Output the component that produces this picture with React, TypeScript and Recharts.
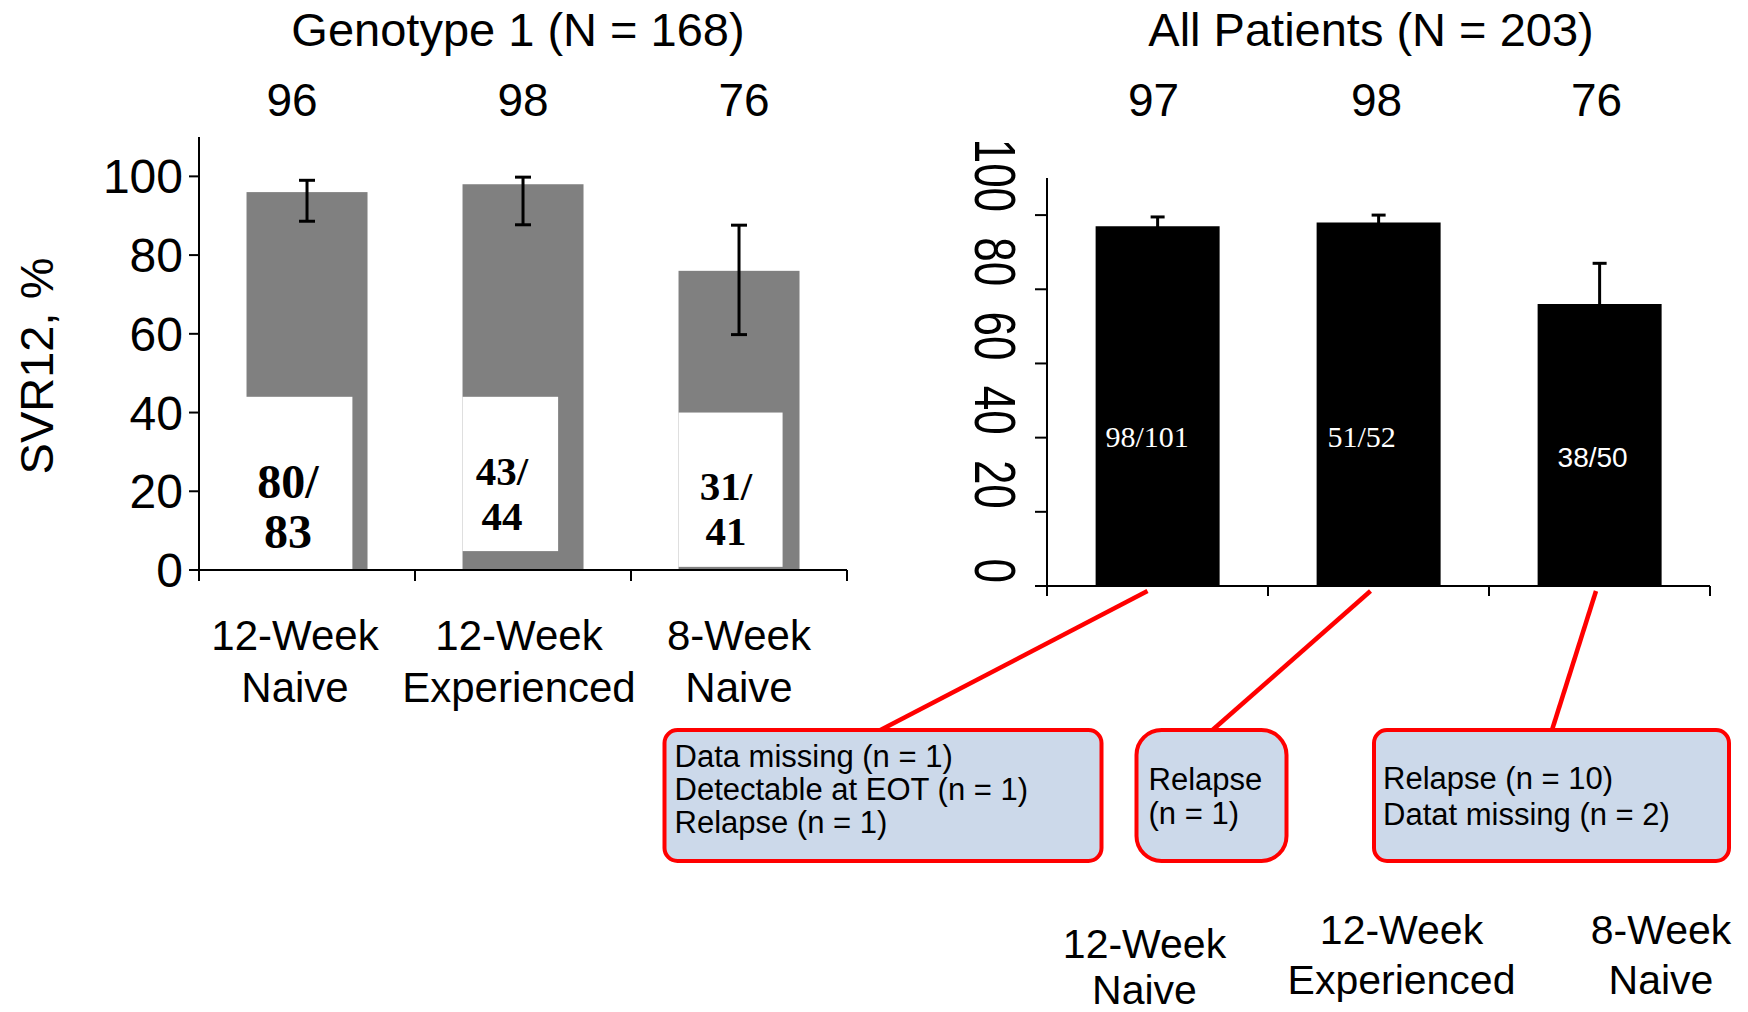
import React from "react";
import { BarChart, Bar, XAxis, YAxis, ErrorBar, LabelList } from "recharts";

const SANS = '"Liberation Sans", Arial, Helvetica, sans-serif';
const SERIF = '"Liberation Serif", "Times New Roman", serif';

// shared categories (two-line tick labels)
const groups = ["12-Week\nNaive", "12-Week\nExperienced", "8-Week\nNaive"];
const yTicks = [0, 20, 40, 60, 80, 100];

// Genotype 1 (N = 168)
const g1Svr = [96, 98, 76];
const g1CiLow = [88.6, 87.7, 59.8];
const g1CiHigh = [99.0, 99.8, 87.6];
const g1Cured = [80, 43, 31];
const g1Total = [83, 44, 41];

// All patients (N = 203)
const allSvr = [97, 98, 76];
const allCiHigh = [99.5, 100, 87];
const allCured = [98, 51, 38];
const allTotal = [101, 52, 50];
const allNotes = [
  ["Data missing (n = 1)", "Detectable at EOT (n = 1)", "Relapse (n = 1)"],
  ["Relapse", "(n = 1)"],
  ["Relapse (n = 10)", "Datat missing (n = 2)"],
];

const g1Rows = groups.map((cat, i) => ({
  cat,
  svr: g1Svr[i],
  err: [g1Svr[i] - g1CiLow[i], g1CiHigh[i] - g1Svr[i]],
  cured: g1Cured[i],
  total: g1Total[i],
}));

// only the upper whisker shows above the black bars; the lower half sits inside them
const allRows = groups.map((cat, i) => ({
  cat,
  svr: allSvr[i],
  err: allCiHigh[i] - allSvr[i],
  frac: `${allCured[i]}/${allTotal[i]}`,
}));

// layout of the two panels
const LEFT = { w: 880, h: 720, yAxisW: 100, xAxisH: 30, margin: { top: 137, right: 33, bottom: 120, left: 99 } };
const RIGHT = { left: 600, w: 1148, h: 1012, yAxisW: 100, xAxisH: 30, margin: { top: 178, right: 38, bottom: 396, left: 347 } };

const halfBand = (c: typeof LEFT) => (c.w - c.margin.left - c.margin.right - c.yAxisW) / groups.length / 2;

// white text boxes pasted over the lower part of the grey bars
const g1Patch = [
  { from: -0.2, to: 0.875, top: 44, bottom: -0.4, dx: -19, size: 48, lines: [72, 22] },
  { from: 0, to: 0.79, top: 44, bottom: 4.8, dx: -21, size: 41, lines: [85, 40] },
  { from: 0, to: 0.86, top: 40, bottom: 0.8, dx: -13, size: 41, lines: [70, 25] },
];

function G1BarShape(props: any) {
  const { x, y, width, height, payload } = props;
  const i = props.index ?? groups.indexOf(payload.cat);
  const p = g1Patch[i];
  const perUnit = height / payload.svr;
  const base = y + height;
  const left = x + p.from * width;
  const right = x + p.to * width;
  const top = base - p.top * perUnit;
  const bottom = base - p.bottom * perUnit;
  const cx = x + width / 2 + p.dx;
  return (
    <g>
      <rect x={x} y={y} width={width} height={height} fill="#808080" />
      <rect x={left} y={top} width={right - left} height={bottom - top} fill="#ffffff" />
      <text x={cx} y={base - p.lines[0]} textAnchor="middle" fontFamily={SERIF} fontWeight="bold" fontSize={p.size} fill="#000">
        {payload.cured}/
      </text>
      <text x={cx} y={base - p.lines[1]} textAnchor="middle" fontFamily={SERIF} fontWeight="bold" fontSize={p.size} fill="#000">
        {payload.total}
      </text>
    </g>
  );
}

const TOP_ROW_Y = 116;
const g1TopDx = [-15, 0, 5];
const allTopDx = [-4, -2, -3];

const topValue = (dxs: number[]) => (props: any) => {
  const { x, width, value, index } = props;
  return (
    <text x={x + width / 2 + dxs[index]} y={TOP_ROW_Y} textAnchor="middle" fontFamily={SANS} fontSize={46} fill="#000">
      {value}
    </text>
  );
};

// bottom axis of the left panel: tick marks on band edges, two-line labels
const g1LabelDx = [-12, -4, 0];

function G1Tick(props: any) {
  const { x, y, payload } = props;
  const i = payload.index ?? props.index;
  const half = payload.offset || halfBand(LEFT);
  const [l1, l2] = String(payload.value).split("\n");
  return (
    <g>
      <line x1={x - half} x2={x - half} y1={y} y2={y + 11} stroke="#000" strokeWidth={2} />
      {i === groups.length - 1 && <line x1={x + half} x2={x + half} y1={y} y2={y + 11} stroke="#000" strokeWidth={2} />}
      <text x={x + g1LabelDx[i]} y={y + 80} textAnchor="middle" fontFamily={SANS} fontSize={42} fill="#000">{l1}</text>
      <text x={x + g1LabelDx[i]} y={y + 132} textAnchor="middle" fontFamily={SANS} fontSize={42} fill="#000">{l2}</text>
    </g>
  );
}

// right panel: rotated y tick labels
function AllYTick(props: any) {
  const { x, y, payload } = props;
  return (
    <text
      transform={`translate(${x},${y - 3}) rotate(90) scale(1,1.3)`}
      textAnchor="end"
      fontFamily={SANS}
      fontSize={44}
      fill="#000"
    >
      {payload.value}
    </text>
  );
}

// callouts hanging below each bar of the right panel
const callout = [
  { start: -10, end: -277, x0: -493, x1: -56, r: 13, textX: -483, lines: [181, 214, 247], labelDx: -13, labelY: [372, 418] },
  { start: -8, end: -166, x0: -242, x1: -92, r: 25, textX: -230, lines: [204, 238], labelDx: 23, labelY: [358, 408] },
  { start: -3.5, end: -47.5, x0: -225.5, x1: 129.5, r: 13, textX: -216.5, lines: [203, 239], labelDx: 61.5, labelY: [358, 408] },
];
const BOX_TOP = 144;
const BOX_BOTTOM = 275;

function AllXTick(props: any) {
  const { x, y, payload } = props;
  const i = payload.index ?? props.index;
  const half = payload.offset || halfBand(RIGHT as any);
  const c = callout[i];
  const [l1, l2] = String(payload.value).split("\n");
  return (
    <g>
      <line x1={x - half} x2={x - half} y1={y} y2={y + 10} stroke="#000" strokeWidth={2} />
      {i === groups.length - 1 && <line x1={x + half} x2={x + half} y1={y} y2={y + 10} stroke="#000" strokeWidth={2} />}
      <line x1={x + c.start} y1={y + 5} x2={x + c.end} y2={y + BOX_TOP} stroke="#ff0000" strokeWidth={4.5} />
      <rect
        x={x + c.x0}
        y={y + BOX_TOP}
        width={c.x1 - c.x0}
        height={BOX_BOTTOM - BOX_TOP}
        rx={c.r}
        ry={c.r}
        fill="#ccd9ea"
        stroke="#ff0000"
        strokeWidth={4}
      />
      {allNotes[i].map((t, k) => (
        <text key={k} x={x + c.textX} y={y + c.lines[k]} fontFamily={SANS} fontSize={31} fill="#000">
          {t}
        </text>
      ))}
      <text x={x + c.labelDx} y={y + c.labelY[0]} textAnchor="middle" fontFamily={SANS} fontSize={41} fill="#000">{l1}</text>
      <text x={x + c.labelDx} y={y + c.labelY[1]} textAnchor="middle" fontFamily={SANS} fontSize={41} fill="#000">{l2}</text>
    </g>
  );
}

// white n/N labels inside the black bars
const allFracStyle = [
  { dx: -10.5, rise: 139, font: SERIF, size: 30 },
  { dx: -17, rise: 139, font: SERIF, size: 30 },
  { dx: -7, rise: 119, font: SANS, size: 28 },
];

function AllFrac(props: any) {
  const { x, y, width, height, value, index } = props;
  const s = allFracStyle[index];
  return (
    <text x={x + width / 2 + s.dx} y={y + height - s.rise} textAnchor="middle" fontFamily={s.font} fontSize={s.size} fill="#fff">
      {value}
    </text>
  );
}

const axisStroke = { stroke: "#000", strokeWidth: 2 };

export default function App() {
  return (
    <div style={{ position: "absolute", left: 0, top: 0, width: 1748, height: 1012, background: "#fff", overflow: "hidden" }}>
      <svg width={1748} height={1012} style={{ position: "absolute", left: 0, top: 0 }}>
        <text x={518} y={46} textAnchor="middle" fontFamily={SANS} fontSize={47} fill="#000">
          Genotype 1 (N = 168)
        </text>
        <text x={1371} y={46} textAnchor="middle" fontFamily={SANS} fontSize={47} fill="#000">
          All Patients (N = 203)
        </text>
        <text transform="translate(53,366) rotate(-90)" textAnchor="middle" fontFamily={SANS} fontSize={47} fill="#000">
          SVR12, %
        </text>
      </svg>

      <div style={{ position: "absolute", left: 0, top: 0 }}>
        <BarChart width={LEFT.w} height={LEFT.h} data={g1Rows} margin={LEFT.margin} barCategoryGap="22%">
          <XAxis
            dataKey="cat"
            height={LEFT.xAxisH}
            axisLine={axisStroke}
            tickLine={false}
            tickSize={0}
            tickMargin={0}
            interval={0}
            tick={<G1Tick />}
          />
          <YAxis
            width={LEFT.yAxisW}
            domain={[0, 110]}
            ticks={yTicks}
            axisLine={axisStroke}
            tickLine={axisStroke}
            tickSize={10}
            tickMargin={6}
            tick={{ fontSize: 48, fill: "#000", fontFamily: SANS }}
          />
          <Bar dataKey="svr" shape={<G1BarShape />} isAnimationActive={false}>
            <ErrorBar dataKey="err" width={8} strokeWidth={3} stroke="#000" direction="y" />
            <LabelList dataKey="svr" content={topValue(g1TopDx)} />
          </Bar>
        </BarChart>
      </div>

      <div style={{ position: "absolute", left: RIGHT.left, top: 0 }}>
        <BarChart width={RIGHT.w} height={RIGHT.h} data={allRows} margin={RIGHT.margin} barCategoryGap="22%">
          <XAxis
            dataKey="cat"
            height={RIGHT.xAxisH}
            axisLine={axisStroke}
            tickLine={false}
            tickSize={0}
            tickMargin={0}
            interval={0}
            tick={<AllXTick />}
          />
          <YAxis
            width={RIGHT.yAxisW}
            domain={[0, 110]}
            ticks={yTicks}
            axisLine={axisStroke}
            tickLine={axisStroke}
            tickSize={12}
            tickMargin={60}
            tick={<AllYTick />}
          />
          <Bar dataKey="svr" fill="#000" isAnimationActive={false}>
            <ErrorBar dataKey="err" width={7} strokeWidth={3} stroke="#000" direction="y" />
            <LabelList dataKey="svr" content={topValue(allTopDx)} />
            <LabelList dataKey="frac" content={AllFrac} />
          </Bar>
        </BarChart>
      </div>
    </div>
  );
}
